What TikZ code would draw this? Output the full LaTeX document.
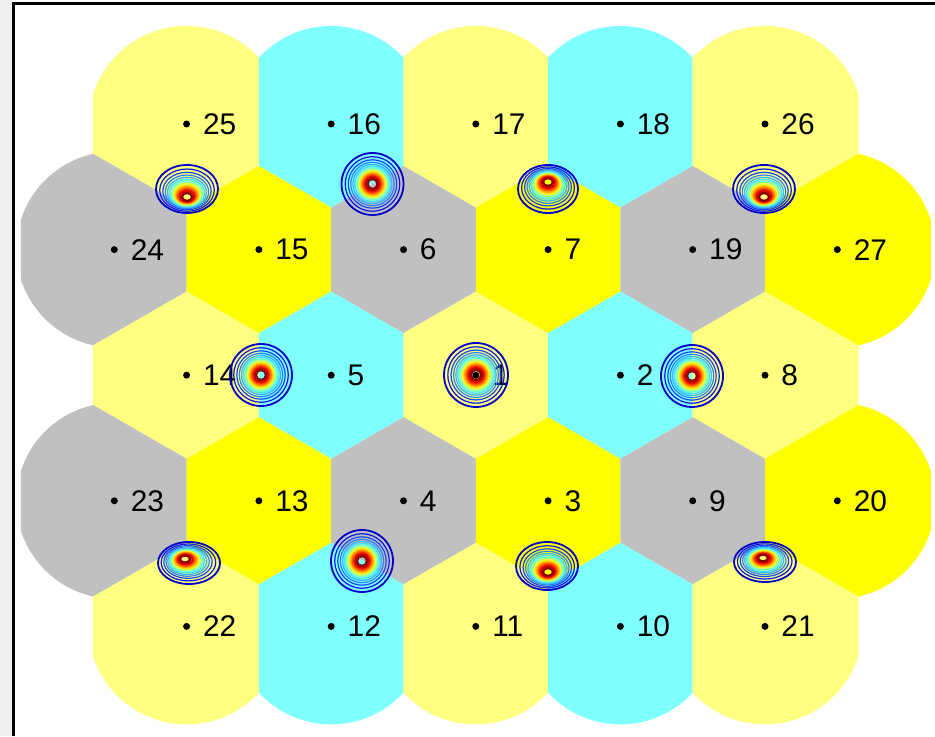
\documentclass[tikz,border=0pt]{standalone}
\usepackage{fontspec}
\setmainfont{Liberation Sans}
\usetikzlibrary{positioning}
\definecolor{cellpale}{HTML}{FFFF80}
\definecolor{cellcyan}{HTML}{80FFFF}
\definecolor{cellgray}{HTML}{C0C0C0}
\definecolor{cellyel}{HTML}{FFFF00}
\definecolor{edgegray}{HTML}{F0F0F0}
\definecolor{jetA}{RGB}{0,0,200}
\definecolor{jetB}{RGB}{10,20,235}
\definecolor{jetC}{RGB}{20,70,255}
\definecolor{jetD}{RGB}{40,130,255}
\definecolor{jetE}{RGB}{60,180,255}
\definecolor{jetF}{RGB}{70,225,255}
\definecolor{jetG}{RGB}{110,255,210}
\definecolor{jetH}{RGB}{170,255,140}
\definecolor{jetI}{RGB}{230,255,60}
\definecolor{jetJ}{RGB}{255,220,0}
\definecolor{jetK}{RGB}{255,160,0}
\definecolor{jetL}{RGB}{255,100,0}
\definecolor{jetM}{RGB}{255,40,0}
\definecolor{jetN}{RGB}{220,0,0}
\definecolor{jetO}{RGB}{170,0,0}
\definecolor{jetP}{RGB}{130,0,0}

% cell sites: x/y/number/colour (pixel units)
\newcommand{\celllist}{%
  186.6/612/25/cellpale, 331.2/612/16/cellcyan, 475.8/612/17/cellpale,
  620.4/612/18/cellcyan, 765/612/26/cellpale,
  114.3/486.4/24/cellgray, 258.9/486.4/15/cellyel, 403.5/486.4/6/cellgray,
  548.1/486.4/7/cellyel, 692.7/486.4/19/cellgray, 837.3/486.4/27/cellyel,
  186.6/360.8/14/cellpale, 331.2/360.8/5/cellcyan, 475.8/360.8/1/cellpale,
  620.4/360.8/2/cellcyan, 765/360.8/8/cellpale,
  114.3/235.2/23/cellgray, 258.9/235.2/13/cellyel, 403.5/235.2/4/cellgray,
  548.1/235.2/3/cellyel, 692.7/235.2/9/cellgray, 837.3/235.2/20/cellyel,
  186.6/109.6/22/cellpale, 331.2/109.6/12/cellcyan, 475.8/109.6/11/cellpale,
  620.4/109.6/10/cellcyan, 765/109.6/21/cellpale}

% contour rings: x, y, x radius, y radius, core shift x, core shift y
\newcommand{\hotspot}[6]{%
  \foreach \ringf/\ringcol/\ringw in {1/jetA/0.036, 0.88/jetB/0.024, 0.78/jetC/0.024,
      0.7/jetD/0.024, 0.63/jetE/0.026, 0.57/jetF/0.028, 0.52/jetG/0.03,
      0.47/jetH/0.03, 0.43/jetI/0.03, 0.39/jetJ/0.03, 0.35/jetK/0.03,
      0.31/jetL/0.03, 0.27/jetM/0.03, 0.23/jetN/0.03, 0.19/jetO/0.03,
      0.15/jetP/0.03}{%
    \pgfmathsetmacro\shiftfrac{(1-\ringf)/0.85}
    \pgfmathsetmacro\ringrx{#3*\ringf}
    \pgfmathsetmacro\ringry{#4*\ringf}
    \draw[ring, draw=\ringcol, line width=\ringw cm]
      ({#1+\shiftfrac*#5},{#2+\shiftfrac*#6}) ellipse [x radius=\ringrx, y radius=\ringry];
  }}

\begin{document}
\begin{tikzpicture}[x=0.02cm, y=0.02cm,
  dot/.style={circle, fill=black, inner sep=0pt, minimum size=0.14cm},
  num/.style={inner sep=0pt, font=\fontsize{17}{20}\selectfont},
  ring/.style={line join=round},
]
  \useasboundingbox (0,0) rectangle (935,736);
  \fill[edgegray] (0,0) rectangle (11.5,736);

  % Cells (circle cut by the neighbours' bisectors)
  \foreach \x/\y/\n/\col in \celllist {
    \begin{scope}
      \foreach \u/\v/\m/\k in \celllist {
        \pgfmathsetmacro\dd{veclen(\u-\x,\v-\y)}
        \ifdim\dd pt<150pt \ifdim\dd pt>1pt
          \pgfmathsetmacro\ang{atan2(\v-\y,\u-\x)}
          \clip[shift={(\x,\y)}, rotate=\ang] (-300,-300) rectangle (\dd/2,300);
        \fi\fi
      }
      \clip (\x-93.5,\y-120) rectangle (\x+93.5,\y+120);
      \fill[\col] (\x,\y) circle [radius=98];
    \end{scope}
  }

  % Sites
  \foreach \x/\y/\n/\col in \celllist {
    \node[dot] (s\n) at (\x,\y) {};
    \node[num, right=0.245cm of s\n] (l\n) {\n};
  }

  % Hot spots
  \hotspot{187}{547}{31}{24}{0}{-8}
  \hotspot{372.5}{552}{31}{31}{0}{0}
  \hotspot{548}{547}{30}{24}{0}{7}
  \hotspot{764}{547}{31}{24}{0}{-8}
  \hotspot{261}{361}{31}{31}{0}{0}
  \hotspot{476}{361}{32}{32}{0}{0}
  \hotspot{692}{360}{31}{31}{0}{0}
  \hotspot{189}{173}{31}{21}{-4}{4}
  \hotspot{362}{175}{31}{31}{0}{0}
  \hotspot{547}{170}{31}{24}{1}{-6}
  \hotspot{765}{174}{31}{20}{-2}{4}

  % Frame
  \draw[line width=0.06cm] (13.3,0) -- (13.3,732.7) -- (935,732.7);
\end{tikzpicture}
\end{document}
